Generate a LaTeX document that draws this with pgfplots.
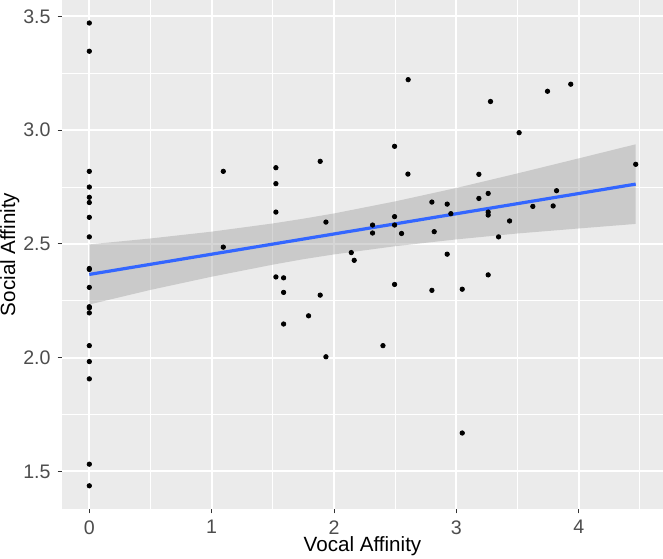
\documentclass[border=0pt]{standalone}
\usepackage{fontspec}
\setmainfont{Liberation Sans}
\usepackage{pgfplots}
\pgfplotsset{compat=1.18}
\definecolor{panelgray}{HTML}{EBEBEB}
\definecolor{gray20}{HTML}{333333}
\definecolor{gray30}{HTML}{4D4D4D}
\definecolor{gray60}{HTML}{999999}
\definecolor{smoothblue}{HTML}{3366FF}
\begin{document}
\begin{tikzpicture}
\begin{axis}[
  at={(0,0)}, anchor=south west,
  scale only axis, width=300.5pt, height=254.6pt,
  xmin=-0.2233, xmax=4.689, ymin=1.335, ymax=3.573,
  axis background/.style={fill=panelgray},
  axis line style={draw=none},
  xtick={0,1,2,3,4}, ytick={1.5,2,2.5,3,3.5},
  minor xtick={0.5,1.5,2.5,3.5,4.5}, minor ytick={1.75,2.25,2.75,3.25},
  grid=both,
  major grid style={white, line width=1pt},
  minor grid style={white, line width=0.5pt},
  tick align=outside, tick pos=left,
  major tick length=2.2pt, minor tick length=0pt,
  major tick style={gray20, line width=0.5pt},
  ticklabel style={font=\fontsize{9.8}{11}\selectfont, text=gray30},
  /pgf/number format/assume math mode=true,
  y tick label style={/pgf/number format/.cd, fixed, fixed zerofill, precision=1},
  xlabel={Vocal Affinity}, ylabel={Social Affinity},
  xlabel style={font=\fontsize{10.3}{12}\selectfont, at={(axis description cs:0.5,-0.0839)}, anchor=base},
  ylabel style={font=\fontsize{10.3}{12}\selectfont, at={(axis description cs:-0.0782,0.5)}, anchor=base},
]
\addplot[only marks, mark=*, mark size=1.1pt, black] coordinates {
(0,3.471)(0,3.347)(0,2.819)(0,2.750)(0,2.705)(0,2.682)(0,2.617)(0,2.531)
(0,2.392)(0,2.388)(0,2.309)(0,2.224)(0,2.219)(0,2.197)(0,2.053)(0,1.983)
(0,1.907)(0,1.532)(0,1.437)
(1.095,2.819)(1.095,2.486)
(1.525,2.835)(1.525,2.765)(1.525,2.640)(1.525,2.355)
(1.588,2.351)(1.588,2.287)(1.588,2.148)
(1.792,2.184)
(1.887,2.863)(1.887,2.275)
(1.934,2.596)(1.934,2.004)
(2.141,2.462)(2.165,2.428)
(2.315,2.583)(2.315,2.548)
(2.400,2.053)
(2.495,2.929)(2.495,2.620)(2.495,2.583)(2.495,2.322)
(2.552,2.546)
(2.604,2.807)(2.606,3.222)
(2.800,2.684)(2.800,2.296)
(2.819,2.554)
(2.925,2.675)(2.925,2.455)
(2.955,2.633)
(3.048,2.301)(3.048,1.669)
(3.184,2.806)(3.184,2.700)
(3.260,2.722)(3.260,2.640)(3.260,2.627)(3.260,2.364)
(3.279,3.126)
(3.345,2.531)
(3.435,2.601)
(3.513,2.989)
(3.625,2.665)
(3.745,3.171)
(3.791,2.667)
(3.819,2.734)
(3.935,3.202)
(4.466,2.850)
};
% confidence band
\addplot[fill=gray60, fill opacity=0.4, draw=none] coordinates {
(0,2.498)(0.5,2.524)(1,2.554)(1.5,2.590)(1.75,2.611)(2,2.634)(2.5,2.687)
(3,2.746)(3.5,2.810)(4,2.876)(4.466,2.938)
(4.466,2.588)(4,2.568)(3.5,2.546)(3,2.520)(2.5,2.490)(2,2.454)(1.75,2.433)
(1.5,2.409)(1,2.356)(0.5,2.298)(0,2.234)
} -- cycle;
\addplot[smoothblue, line width=1.6pt] coordinates {(0,2.366)(4.466,2.763)};
\end{axis}
\pgfresetboundingbox
\path[use as bounding box] (-31pt,-24.5pt) rectangle (300.5pt,254.5pt);
\end{tikzpicture}
\end{document}
